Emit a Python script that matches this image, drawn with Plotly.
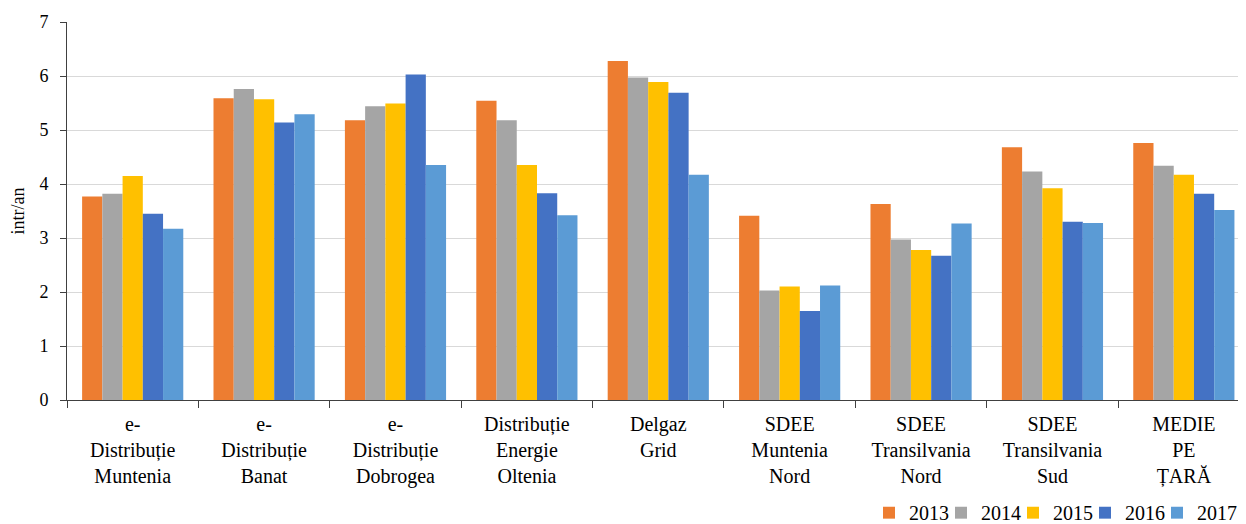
import plotly.graph_objects as go

categories = [
    "e-<br>Distribuție<br>Muntenia",
    "e-<br>Distribuție<br>Banat",
    "e-<br>Distribuție<br>Dobrogea",
    "Distribuție<br>Energie<br>Oltenia",
    "Delgaz<br>Grid",
    "SDEE<br>Muntenia<br>Nord",
    "SDEE<br>Transilvania<br>Nord",
    "SDEE<br>Transilvania<br>Sud",
    "MEDIE<br>PE<br>ȚARĂ",
]
years = ["2013", "2014", "2015", "2016", "2017"]
v2013 = [3.77, 5.59, 5.18, 5.54, 6.28, 3.41, 3.63, 4.68, 4.76]
v2014 = [3.82, 5.76, 5.44, 5.18, 5.97, 2.03, 2.97, 4.23, 4.34]
v2015 = [4.15, 5.57, 5.49, 4.35, 5.89, 2.10, 2.78, 3.92, 4.17]
v2016 = [3.45, 5.14, 6.03, 3.83, 5.69, 1.65, 2.67, 3.30, 3.82]
v2017 = [3.17, 5.29, 4.35, 3.42, 4.17, 2.12, 3.27, 3.28, 3.52]
series = [v2013, v2014, v2015, v2016, v2017]
colors = ["#ED7D31", "#A5A5A5", "#FFC000", "#4472C4", "#5B9BD5"]

FONT = "Liberation Serif, Times New Roman, serif"

fig = go.Figure()
for i, (name, vals, col) in enumerate(zip(years, series, colors)):
    fig.add_trace(go.Bar(x=categories, y=vals, name=name, marker_color=col,
                         marker_line_width=0,
                         legendwidth=27 if i < len(years) - 1 else 44))

# page body has an 8px margin, so the figure is 8px smaller and margins shifted
fig.update_layout(
    width=1238, height=516,
    margin=dict(l=59, r=0, t=14, b=124, autoexpand=False),
    paper_bgcolor="white", plot_bgcolor="white",
    barmode="group", bargap=0.23, bargroupgap=0,
    font=dict(family=FONT, size=18, color="#000000"),
    legend=dict(orientation="h", xref="container", yref="container",
                x=1, xanchor="right", y=0.022, yanchor="middle",
                font=dict(size=20), itemwidth=30, traceorder="normal"),
    showlegend=True,
)
fig.update_xaxes(
    type="category", range=[-0.5, 8.473],
    tickson="boundaries", ticks="outside", ticklen=7, tickcolor="#404040",
    showline=True, linecolor="#404040", linewidth=1,
    showgrid=False, tickangle=0, tickfont=dict(size=20),
    ticklabelstandoff=6, automargin=False,
)
fig.update_yaxes(
    range=[0, 7], dtick=1, tick0=0,
    ticks="outside", ticklen=6, tickcolor="#404040",
    showline=True, linecolor="#404040", linewidth=1,
    showgrid=True, gridcolor="#D9D9D9", gridwidth=1,
    zeroline=False, ticklabelstandoff=8, automargin=False,
    title=dict(text="intr/an", font=dict(size=18), standoff=14),
    tickfont=dict(size=18),
)

fig.write_html("out.html")
